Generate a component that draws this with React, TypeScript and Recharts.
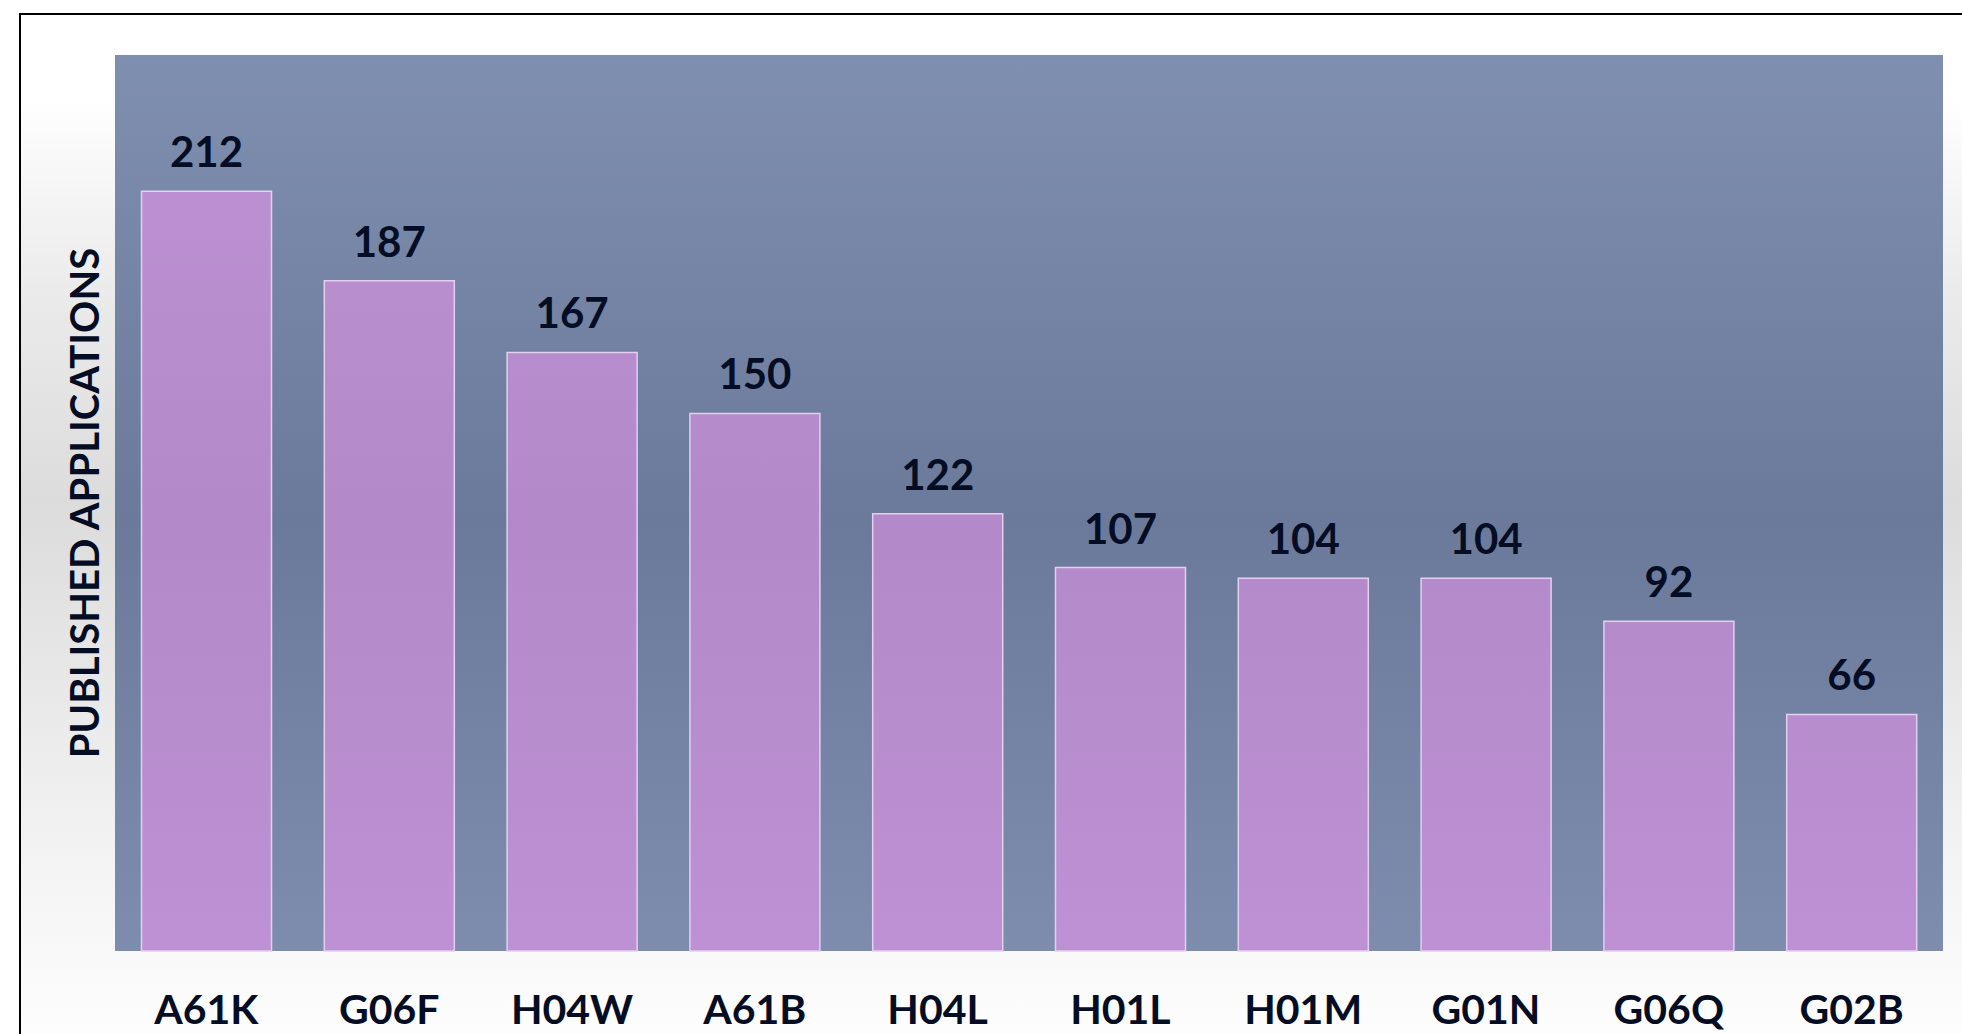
import React from "react";
import {
  Bar,
  BarChart,
  CartesianGrid,
  LabelList,
  XAxis,
  YAxis,
} from "recharts";

const categories: string[] = [
  "A61K",
  "G06F",
  "H04W",
  "A61B",
  "H04L",
  "H01L",
  "H01M",
  "G01N",
  "G06Q",
  "G02B",
];

const applications: number[] = [212, 187, 167, 150, 122, 107, 104, 104, 92, 66];

const yDomain: [number, number] = [0, 250];

const yLabel = "PUBLISHED APPLICATIONS";

interface ChartDataPoint {
  code: string;
  count: number;
}

const chartData: ChartDataPoint[] = categories.map((code, i) => ({
  code,
  count: applications[i],
}));

const FONT = "Lato, 'Open Sans', sans-serif";
const TEXT_COLOR = "#040d24";

interface TickProps {
  x?: number;
  y?: number;
  payload?: { value: string };
}

function CategoryTick({ x = 0, y = 0, payload }: TickProps) {
  return (
    <text
      x={x}
      y={y + 73}
      textAnchor="middle"
      fontFamily={FONT}
      fontWeight={700}
      fontSize={41}
      fill={TEXT_COLOR}
    >
      {payload?.value}
    </text>
  );
}

// rotated axis title, centred on the plot area
function AxisTitle() {
  return (
    <text
      transform="translate(99, 503) rotate(-90)"
      textAnchor="middle"
      fontFamily={FONT}
      fontWeight={700}
      fontSize={40}
      fill={TEXT_COLOR}
    >
      {yLabel}
    </text>
  );
}

export default function App() {
  return (
    <div
      style={{
        position: "fixed",
        left: 0,
        top: 0,
        width: 1962,
        height: 1034,
        overflow: "hidden",
        background: "#ffffff",
      }}
    >
      <div
        style={{
          position: "absolute",
          left: 19,
          top: 13,
          width: 1980,
          height: 1060,
          borderLeft: "2px solid #000",
          borderTop: "2px solid #000",
          background:
            "linear-gradient(to bottom, #ffffff 0%, #ffffff 8%, #ebebeb 26%, #dcdcdc 46%, #f3f3f3 79%, #fdfdfd 96%, #ffffff 100%)",
        }}
      />
      <svg width={0} height={0} style={{ position: "absolute" }}>
        <defs>
          <linearGradient
            id="plotBg"
            gradientUnits="userSpaceOnUse"
            x1="0"
            y1="55"
            x2="0"
            y2="951"
          >
            <stop offset="0%" stopColor="#7f8faf" />
            <stop offset="52%" stopColor="#6b7a9a" />
            <stop offset="100%" stopColor="#7e8dad" />
          </linearGradient>
          <linearGradient
            id="barFill"
            gradientUnits="userSpaceOnUse"
            x1="0"
            y1="55"
            x2="0"
            y2="951"
          >
            <stop offset="0%" stopColor="#bf93d5" />
            <stop offset="52%" stopColor="#b389c9" />
            <stop offset="100%" stopColor="#bd91d3" />
          </linearGradient>
        </defs>
      </svg>
      <div style={{ position: "absolute", left: 0, top: 0 }}>
        <BarChart
          width={1962}
          height={1034}
          data={chartData}
          margin={{ top: 55, right: 19, left: 0, bottom: 0 }}
          barCategoryGap="14.5%"
        >
          <CartesianGrid
            horizontal={false}
            vertical={false}
            fill="url(#plotBg)"
            stroke="none"
          />
          <XAxis
            dataKey="code"
            height={83}
            axisLine={false}
            tickLine={false}
            tickSize={0}
            tickMargin={0}
            interval={0}
            tick={<CategoryTick />}
          />
          <YAxis
            width={115}
            domain={yDomain}
            axisLine={false}
            tickLine={false}
            tick={false}
            label={<AxisTitle />}
          />
          <Bar
            dataKey="count"
            fill="url(#barFill)"
            stroke="#e3cfee"
            strokeWidth={1.5}
            isAnimationActive={false}
          >
            <LabelList
              dataKey="count"
              position="top"
              offset={24}
              fontFamily={FONT}
              fontWeight={700}
              fontSize={42}
              fill={TEXT_COLOR}
            />
          </Bar>
        </BarChart>
      </div>
    </div>
  );
}
